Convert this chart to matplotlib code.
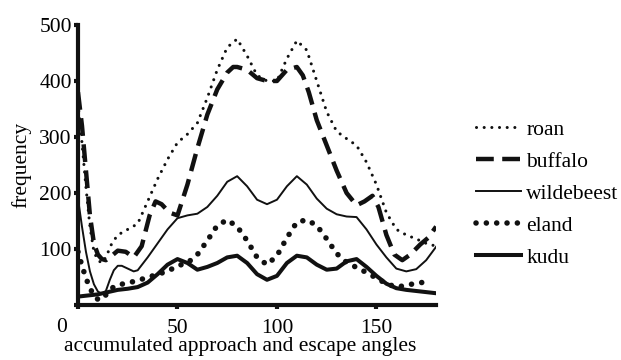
import matplotlib
matplotlib.use("Agg")
import matplotlib.pyplot as plt

plt.rcParams['font.family'] = ['Liberation Serif', 'DejaVu Serif']
plt.rcParams['font.size'] = 15.5

# values
roan_x = [0, 2, 4, 6, 8, 10, 12, 14, 17, 20, 25, 30, 35, 40, 45, 50, 55, 60, 65, 70, 75, 80,
          85, 90, 95, 100, 105, 110, 115, 120, 125, 130, 135, 140, 145, 150, 155, 160, 165,
          170, 175, 180]
roan_y = [360, 290, 210, 140, 95, 80, 75, 85, 110, 125, 135, 145, 185, 225, 260, 290, 305, 325,
          370, 420, 460, 475, 445, 410, 400, 400, 440, 472, 455, 400, 345, 310, 297, 285, 255,
          215, 165, 135, 125, 118, 110, 105]

buffalo_x = [0, 2, 4, 6, 8, 10, 12, 14, 17, 20, 24, 28, 32, 36, 39, 42, 46, 50, 55, 60, 65, 70,
             75, 78, 80, 85, 90, 95, 100, 105, 110, 113, 116, 120, 125, 130, 135, 140, 144, 148,
             151, 155, 159, 163, 167, 172, 176, 180]
buffalo_y = [380, 320, 240, 160, 110, 90, 82, 80, 88, 97, 95, 85, 105, 160, 185, 180, 165, 160,
             215, 280, 340, 385, 415, 425, 425, 420, 405, 400, 400, 420, 425, 410, 380, 330, 285,
             240, 200, 178, 185, 195, 175, 125, 90, 80, 90, 108, 120, 140]

wild_x = [0, 2, 4, 6, 8, 10, 12, 14, 16, 18, 20, 22, 25, 28, 30, 35, 40, 45, 50, 55, 60, 65, 70,
          75, 80, 85, 90, 95, 100, 105, 110, 115, 120, 125, 130, 135, 140, 145, 150, 155, 160,
          165, 170, 175, 180]
wild_y = [190, 140, 95, 60, 37, 24, 20, 25, 45, 62, 70, 70, 65, 60, 62, 85, 110, 135, 155, 160,
          163, 175, 195, 220, 230, 212, 188, 180, 188, 212, 230, 215, 190, 172, 162, 158, 157,
          135, 108, 85, 65, 60, 64, 80, 104]

eland_x = [0, 2, 4, 6, 8, 10, 12, 14, 17, 20, 25, 30, 35, 40, 45, 50, 55, 60, 65, 70, 75, 80, 85,
           90, 95, 100, 105, 110, 115, 120, 125, 130, 135, 140, 145, 150, 155, 160, 165, 170, 175]
eland_y = [95, 70, 48, 30, 17, 10, 10, 18, 30, 36, 39, 44, 49, 55, 60, 70, 75, 90, 115, 142, 152,
           140, 115, 85, 72, 88, 120, 148, 152, 142, 118, 92, 76, 67, 58, 48, 38, 32, 35, 39, 41]

kudu_x = [0, 5, 10, 15, 20, 25, 30, 35, 40, 45, 50, 55, 60, 65, 70, 75, 80, 85, 90, 95, 100, 105,
          110, 115, 120, 125, 130, 135, 140, 145, 150, 155, 160, 165, 170, 175, 180]
kudu_y = [15, 17, 19, 23, 27, 29, 32, 40, 55, 72, 82, 75, 63, 68, 75, 85, 88, 75, 55, 45, 52, 75,
          88, 85, 72, 63, 65, 78, 82, 68, 52, 38, 30, 27, 25, 23, 21]

fig = plt.figure(figsize=(6.21, 3.6), dpi=100)
ax = fig.add_axes([0.1256, 0.1528, 0.5767, 0.7778])

k = '#111111'
ax.plot(roan_x, roan_y, color=k, lw=2.2, ls=(0, (0.01, 2.5)),
        dash_capstyle='round', label='roan')
ax.plot(buffalo_x, buffalo_y, color=k, lw=3.2, ls=(0, (4, 1.9)),
        dash_capstyle='butt', label='buffalo')
ax.plot(wild_x, wild_y, color=k, lw=1.4, label='wildebeest')
ax.plot(eland_x, eland_y, color=k, lw=4, ls=(0, (0.01, 1.85)),
        dash_capstyle='round', label='eland')
ax.plot(kudu_x, kudu_y, color=k, lw=2.9, label='kudu')

ax.set_xlim(0, 180)
ax.set_ylim(0, 500)
ax.set_xticks([0, 50, 100, 150])
ax.set_xticklabels(['', '50', '100', '150'])
ax.set_yticks([0, 100, 200, 300, 400, 500])
ax.set_yticklabels(['', '100', '200', '300', '400', '500'])

for s in ['top', 'right']:
    ax.spines[s].set_visible(False)
for s in ['left', 'bottom']:
    ax.spines[s].set_linewidth(3)
    ax.spines[s].set_color(k)
ax.tick_params(axis='x', length=3, width=3, pad=7, color=k)
ax.tick_params(axis='y', length=3, width=3, pad=1.5, color=k)

fig.text(62 / 621, 1 - 328 / 360, '0', ha='center', va='center')
ax.set_ylabel('frequency', labelpad=6)
fig.text(240 / 621, 1 - 347 / 360, 'accumulated approach and escape angles',
         ha='center', va='center')

ax.legend(loc='center left', bbox_to_anchor=(0.766, 0.462), bbox_transform=fig.transFigure,
          frameon=False, handlelength=2.1, handletextpad=0.25, labelspacing=0.55,
          borderpad=0, borderaxespad=0)

fig.savefig('out.png', dpi=100)
